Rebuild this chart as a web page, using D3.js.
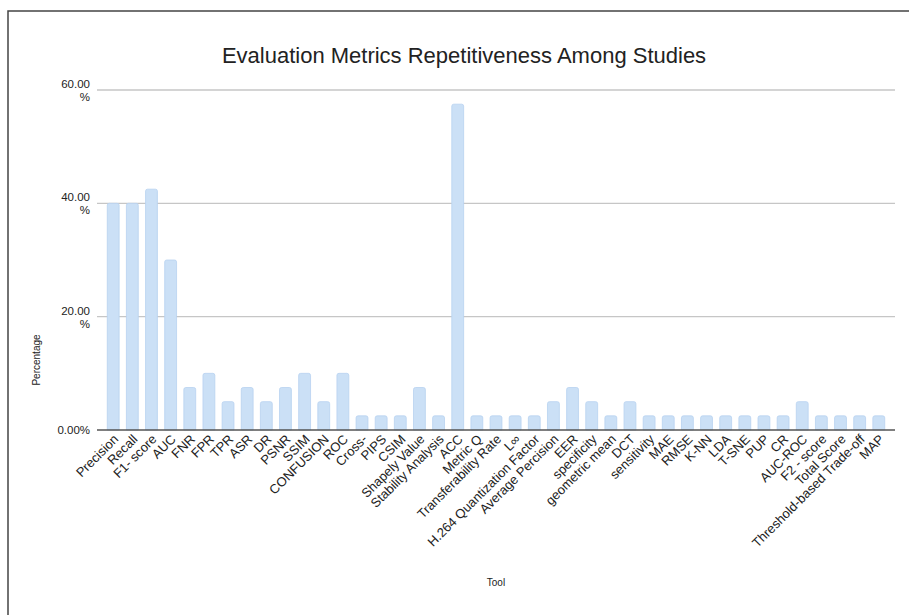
<!DOCTYPE html>
<meta charset="utf-8">
<script src="https://d3js.org/d3.v7.js"></script>
<style>
  body { margin: 0; background: #fff; }
  text { font-family: "Liberation Sans", Arial, sans-serif; fill: #222; }
</style>
<svg id="chart" width="909" height="615"></svg>
<script>

// Data
const tools = ["Precision", "Recall", "F1- score", "AUC", "FNR", "FPR", "TPR", "ASR", "DR", "PSNR",
  "SSIM", "CONFUSION", "ROC", "Cross-", "PIPS", "CSIM", "Shapely Value", "Stability Analysis", "ACC",
  "Metric Q", "Transferability Rate", "L\u221E", "H.264 Quantization Factor", "Average Percision", "EER",
  "specificity", "geometric mean", "DCT", "sensitivity", "MAE", "RMSE", "K-NN", "LDA", "T-SNE", "PUP",
  "CR", "AUC-ROC", "F2 - score", "Total Score", "Threshold-based Trade-off", "MAP"];
const percentages = [40, 40, 42.5, 30, 7.5, 10, 5, 7.5, 5, 7.5,
  10, 5, 10, 2.5, 2.5, 2.5, 7.5, 2.5, 57.5,
  2.5, 2.5, 2.5, 2.5, 5, 7.5,
  5, 2.5, 5, 2.5, 2.5, 2.5, 2.5, 2.5, 2.5, 2.5,
  2.5, 5, 2.5, 2.5, 2.5, 2.5];
const yTicks = [0, 20, 40, 60];

const svg = d3.select("#chart");

// frame around the chart
svg.append("path")
  .attr("d", "M8,615 L8,11 L909,11")
  .attr("fill", "none")
  .attr("stroke", "#444")
  .attr("stroke-width", 1.5);

const x = d3.scaleBand()
  .domain(tools)
  .range([100, 892])
  .padding(0.38);

const y = d3.scaleLinear()
  .domain([0, 60])
  .range([430, 90]);

// title
svg.append("text")
  .attr("x", 464)
  .attr("y", 63)
  .attr("text-anchor", "middle")
  .style("font-size", "22px")
  .text("Evaluation Metrics Repetitiveness Among Studies");

// gridlines
svg.append("g")
  .selectAll("line")
  .data(yTicks.filter(d => d > 0))
  .join("line")
    .attr("x1", 97)
    .attr("x2", 895)
    .attr("y1", d => y(d))
    .attr("y2", d => y(d))
    .attr("stroke", "#c6c6c6")
    .attr("stroke-width", 1.3);

// y tick labels: "NN.00" above the gridline, "%" below it
const yl = svg.append("g")
  .style("font-size", "11.5px")
  .attr("text-anchor", "end");
yl.selectAll("text.num")
  .data(yTicks)
  .join("text")
    .attr("class", "num")
    .attr("x", 90)
    .attr("y", d => d === 0 ? y(d) + 4 : y(d) - 2)
    .text(d => d === 0 ? "0.00%" : d.toFixed(2));
yl.selectAll("text.pct")
  .data(yTicks.filter(d => d > 0))
  .join("text")
    .attr("class", "pct")
    .attr("x", 90)
    .attr("y", d => y(d) + 11)
    .text("%");

// bars
svg.append("g")
  .selectAll("path")
  .data(tools)
  .join("path")
    .attr("d", (d, i) => {
      const x0 = x(d), w = x.bandwidth(), y0 = y(percentages[i]), r = 2;
      return `M${x0},${y(0)} L${x0},${y0 + r} Q${x0},${y0} ${x0 + r},${y0} L${x0 + w - r},${y0} Q${x0 + w},${y0} ${x0 + w},${y0 + r} L${x0 + w},${y(0)} Z`;
    })
    .attr("fill", "#cbe0f6")
    .attr("stroke", "#b8d2f0")
    .attr("stroke-width", 0.8);

// baseline
svg.append("line")
  .attr("x1", 97)
  .attr("x2", 895)
  .attr("y1", y(0))
  .attr("y2", y(0))
  .attr("stroke", "#555")
  .attr("stroke-width", 1.5);

// x labels
svg.append("g")
  .selectAll("text")
  .data(tools)
  .join("text")
    .attr("text-anchor", "end")
    .attr("transform", d => `translate(${x(d) + x.bandwidth() / 2 + 6},${y(0) + 10}) rotate(-45)`)
    .style("font-size", "13px")
    .text(d => d);

// axis titles
svg.append("text")
  .attr("transform", "translate(40,360) rotate(-90)")
  .attr("text-anchor", "middle")
  .style("font-size", "10px")
  .text("Percentage");

svg.append("text")
  .attr("x", 496)
  .attr("y", 586)
  .attr("text-anchor", "middle")
  .style("font-size", "10px")
  .text("Tool");

</script>
